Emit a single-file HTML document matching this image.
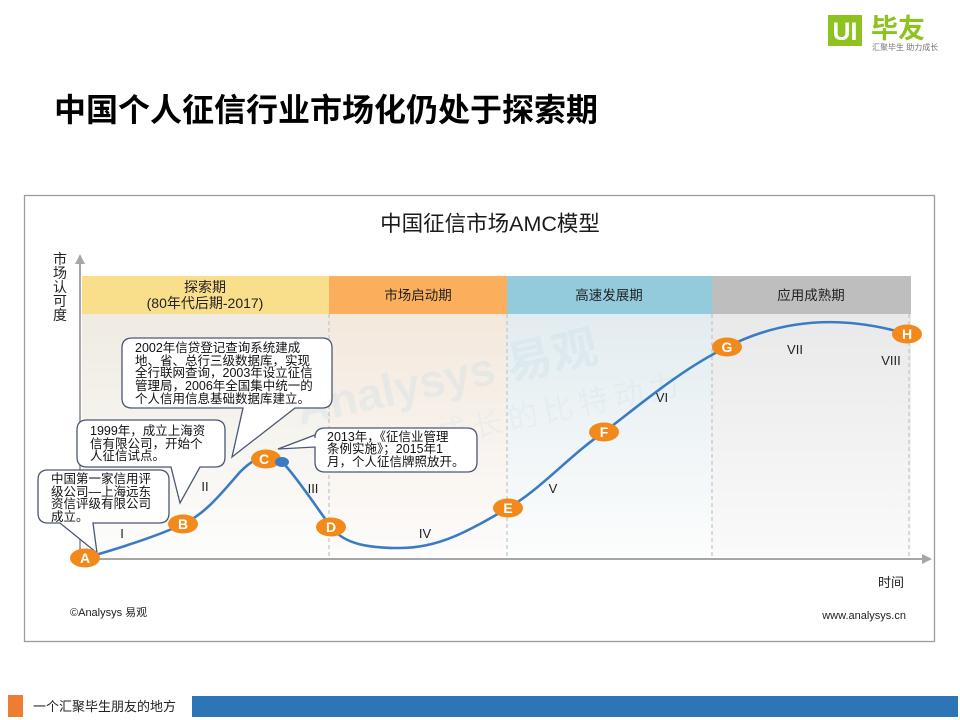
<!DOCTYPE html>
<html><head><meta charset="utf-8">
<style>
html,body{margin:0;padding:0;background:#fff;}
body{width:960px;height:720px;overflow:hidden;}
svg{display:block;font-family:"Liberation Sans","Noto Sans CJK SC",sans-serif;}
.cjk{font-family:"Liberation Sans","Noto Sans CJK SC",sans-serif;}
</style></head>
<body>
<svg width="960" height="720" viewBox="0 0 960 720" xmlns="http://www.w3.org/2000/svg">
<defs>
  <linearGradient id="gy" x1="0" y1="0" x2="0" y2="1"><stop offset="0" stop-color="#EFEBE2"/><stop offset="1" stop-color="#FDFDFC"/></linearGradient>
  <linearGradient id="go" x1="0" y1="0" x2="0" y2="1"><stop offset="0" stop-color="#F3E8DC"/><stop offset="1" stop-color="#FDFCFB"/></linearGradient>
  <linearGradient id="gb" x1="0" y1="0" x2="0" y2="1"><stop offset="0" stop-color="#E2ECF0"/><stop offset="1" stop-color="#FCFDFD"/></linearGradient>
  <linearGradient id="gg" x1="0" y1="0" x2="0" y2="1"><stop offset="0" stop-color="#E9E9E9"/><stop offset="1" stop-color="#FAFAFA"/></linearGradient>
</defs>

<!-- logo -->
<rect x="828" y="15" width="34" height="31" fill="#8DC21F"/>
<text x="845" y="40" font-size="25" font-weight="bold" fill="#fff" text-anchor="middle">UI</text>
<text x="871" y="38" font-size="27" font-weight="bold" fill="#8DC21F" class="cjk">毕友</text>
<text x="872" y="50" font-size="8" fill="#777" class="cjk">汇聚毕生 助力成长</text>

<!-- main title -->
<text x="54" y="121" font-size="32" font-weight="bold" fill="#000" class="cjk">中国个人征信行业市场化仍处于探索期</text>

<!-- chart frame -->
<rect x="24.5" y="195.5" width="910" height="446" fill="#fff" stroke="#9C9C9C" stroke-width="1.3"/>

<text x="490" y="231" font-size="21.5" fill="#1a1a1a" text-anchor="middle" class="cjk">中国征信市场AMC模型</text>

<!-- band backgrounds -->
<rect x="82" y="314" width="247" height="243" fill="url(#gy)"/>
<rect x="329" y="314" width="178" height="243" fill="url(#go)"/>
<rect x="507" y="314" width="205" height="243" fill="url(#gb)"/>
<rect x="712" y="314" width="199" height="243" fill="url(#gg)"/>

<!-- band headers -->
<rect x="82" y="276" width="247" height="38" fill="#F9DE8C"/>
<rect x="329" y="276" width="178" height="38" fill="#FBAF5D"/>
<rect x="507" y="276" width="205" height="38" fill="#93CBDD"/>
<rect x="712" y="276" width="199" height="38" fill="#BEBEBE"/>

<text x="205" y="292" font-size="14" fill="#222" text-anchor="middle" class="cjk">探索期</text>
<text x="205" y="308" font-size="14" fill="#222" text-anchor="middle" class="cjk">(80年代后期-2017)</text>
<text x="418" y="300" font-size="13.5" fill="#222" text-anchor="middle" class="cjk">市场启动期</text>
<text x="609" y="300" font-size="13.5" fill="#222" text-anchor="middle" class="cjk">高速发展期</text>
<text x="811" y="300" font-size="13.5" fill="#222" text-anchor="middle" class="cjk">应用成熟期</text>

<!-- watermark -->
<g opacity="0.3">
<text transform="translate(300,425) rotate(-12)" font-size="46" font-weight="bold" fill="#C6DDE7" class="cjk">Analysys 易观</text>
<text transform="translate(440,445) rotate(-12)" font-size="30" fill="#D3E3EA" class="cjk" letter-spacing="6">成长的比特动力</text>
</g>

<!-- dashed separators -->
<g stroke="#C4C4C4" stroke-width="1.2" stroke-dasharray="4,3">
<line x1="329" y1="314" x2="329" y2="557"/>
<line x1="507" y1="314" x2="507" y2="557"/>
<line x1="712" y1="314" x2="712" y2="557"/>
<line x1="909" y1="314" x2="909" y2="557"/>
</g>

<!-- axes -->
<line x1="80" y1="560" x2="80" y2="262" stroke="#A6A6A6" stroke-width="2"/>
<polygon points="80,254 75,264 85,264" fill="#A6A6A6"/>
<line x1="79" y1="559" x2="923" y2="559" stroke="#A6A6A6" stroke-width="2"/>
<polygon points="932,559 922,554 922,564" fill="#A6A6A6"/>

<!-- y label -->
<g font-size="14" fill="#222" text-anchor="middle" class="cjk">
<text x="60" y="264">市</text>
<text x="60" y="278">场</text>
<text x="60" y="292">认</text>
<text x="60" y="306">可</text>
<text x="60" y="320">度</text>
</g>

<!-- curve -->
<path d="M85,558 C120,548 160,535 183,524 C205,514 220,495 240,472 C250,462 258,457 268,457 C275,457 280,460 285,465 C300,482 315,505 331,527 C345,545 370,548 400,548 C440,548 470,530 508,508 C540,490 570,455 604,432 C640,405 680,370 727,347 C780,320 840,314 907,334" fill="none" stroke="#3A7CC3" stroke-width="2.6"/>

<!-- callouts -->
<g fill="#fff" stroke="#4A5874" stroke-width="1.3">
<path d="M132,338 H322 Q332,338 332,348 V398 Q332,408 322,408 H295 L232,457 L243,408 H132 Q122,408 122,398 V348 Q122,338 132,338 Z"/>
<path d="M87,420 H215 Q225,420 225,430 V457 Q225,467 215,467 H200 L180,503 L171,467 H87 Q77,467 77,457 V430 Q77,420 87,420 Z"/>
<path d="M48,470 H159 Q169,470 169,480 V513 Q169,523 159,523 H93 L97,553 L60,523 H48 Q38,523 38,513 V480 Q38,470 48,470 Z"/>
<path d="M325,428 H467 Q477,428 477,438 V462 Q477,472 467,472 H325 Q315,472 315,462 V447 L278,449 L315,435 V438 Q315,428 325,428 Z"/>
</g>

<g font-size="12.5" fill="#111" class="cjk">
<text x="135" y="352">2002年信贷登记查询系统建成</text>
<text x="135" y="365">地、省、总行三级数据库，实现</text>
<text x="135" y="377">全行联网查询，2003年设立征信</text>
<text x="135" y="390">管理局，2006年全国集中统一的</text>
<text x="135" y="403">个人信用信息基础数据库建立。</text>

<text x="90" y="435">1999年，成立上海资</text>
<text x="90" y="448">信有限公司，开始个</text>
<text x="90" y="460">人征信试点。</text>

<text x="51" y="483">中国第一家信用评</text>
<text x="51" y="496">级公司—上海远东</text>
<text x="51" y="508">资信评级有限公司</text>
<text x="51" y="521">成立。</text>

<text x="327" y="441">2013年，《征信业管理</text>
<text x="327" y="453">条例实施》；2015年1</text>
<text x="327" y="466">月，个人征信牌照放开。</text>
</g>

<!-- markers -->
<g fill="#F28A1B">
<ellipse cx="85" cy="558" rx="15" ry="9.5"/>
<ellipse cx="183" cy="524" rx="15" ry="9.5"/>
<ellipse cx="266" cy="459" rx="15" ry="9.5"/>
<ellipse cx="331" cy="527" rx="15" ry="9.5"/>
<ellipse cx="508" cy="508" rx="15" ry="9.5"/>
<ellipse cx="604" cy="432" rx="15" ry="9.5"/>
<ellipse cx="727" cy="347" rx="15" ry="9.5"/>
<ellipse cx="907" cy="334" rx="15" ry="9.5"/>
</g>
<ellipse cx="282" cy="462" rx="7" ry="5" fill="#3A7CC3"/>
<g font-size="14" font-weight="bold" fill="#fff" text-anchor="middle">
<text x="85" y="563">A</text>
<text x="183" y="529">B</text>
<text x="264" y="464">C</text>
<text x="331" y="532">D</text>
<text x="508" y="513">E</text>
<text x="604" y="437">F</text>
<text x="727" y="352">G</text>
<text x="907" y="339">H</text>
</g>

<!-- roman numerals -->
<g font-size="13" fill="#222" text-anchor="middle">
<text x="122" y="538">I</text>
<text x="205" y="491">II</text>
<text x="313" y="493">III</text>
<text x="425" y="538">IV</text>
<text x="553" y="493">V</text>
<text x="662" y="402">VI</text>
<text x="795" y="354">VII</text>
<text x="891" y="365">VIII</text>
</g>

<text x="878" y="587" font-size="13" fill="#222" class="cjk">时间</text>
<text x="70" y="616" font-size="11" fill="#222" class="cjk">©Analysys 易观</text>
<text x="906" y="619" font-size="11" fill="#222" text-anchor="end">www.analysys.cn</text>

<!-- footer -->
<rect x="8" y="695" width="15" height="22" fill="#ED7D31"/>
<text x="33" y="711" font-size="13" fill="#222" class="cjk">一个汇聚毕生朋友的地方</text>
<rect x="192" y="696" width="766" height="21" fill="#2E75B6"/>
</svg>
</body></html>
